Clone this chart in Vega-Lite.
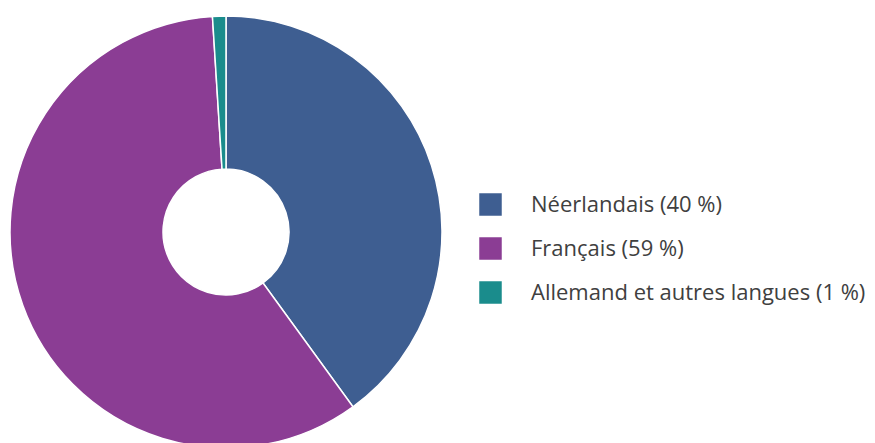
{
  "$schema": "https://vega.github.io/schema/vega-lite/v6.json",
  "width": 452,
  "height": 442,
  "padding": {"top": 11, "left": 0, "right": 0, "bottom": 0},
  "background": "white",
  "view": {"stroke": null},
  "data": {
    "values": [
      {"langue": "Néerlandais (40 %)", "pct": 40, "o": 1},
      {"langue": "Français (59 %)", "pct": 59, "o": 2},
      {"langue": "Allemand et autres langues (1 %)", "pct": 1, "o": 3}
    ]
  },
  "mark": {"type": "arc", "outerRadius": 216, "innerRadius": 63, "stroke": "white", "strokeWidth": 1.5},
  "encoding": {
    "theta": {"field": "pct", "type": "quantitative", "stack": true},
    "order": {"field": "o", "type": "quantitative"},
    "color": {
      "field": "langue",
      "type": "nominal",
      "sort": null,
      "scale": {
        "domain": ["Néerlandais (40 %)", "Français (59 %)", "Allemand et autres langues (1 %)"],
        "range": ["#3e5e91", "#8b3d94", "#1a8c8c"]
      },
      "legend": {
        "title": null,
        "orient": "none",
        "legendX": 479,
        "legendY": 182,
        "padding": 0,
        "symbolType": "square",
        "symbolSize": 506,
        "symbolStrokeWidth": 0,
        "symbolOpacity": 1,
        "rowPadding": 21,
        "labelOffset": 29,
        "labelFont": "Open Sans",
        "labelFontSize": 22,
        "labelFontWeight": 400,
        "labelColor": "#404040",
        "labelLimit": 0
      }
    }
  }
}
